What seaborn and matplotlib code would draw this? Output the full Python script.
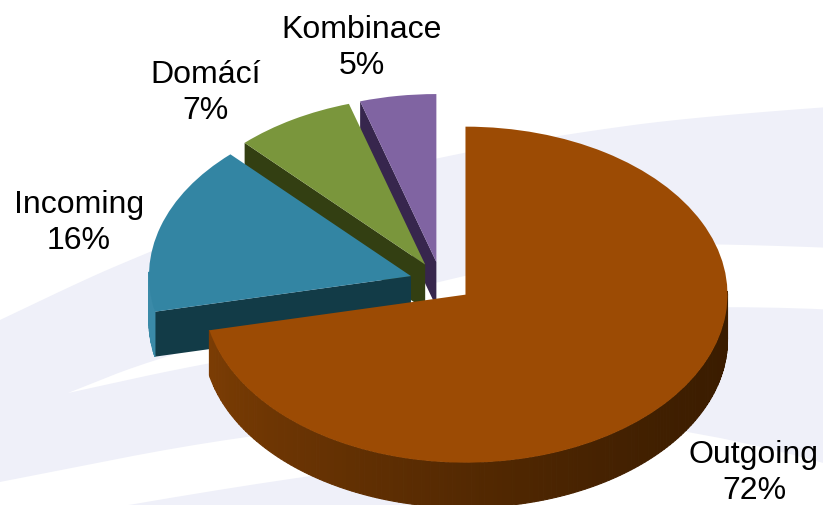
import numpy as np
import matplotlib
matplotlib.use('Agg')
import matplotlib.pyplot as plt
import seaborn as sns

sns.set_theme(style='white')
plt.rcParams['font.family'] = ['Liberation Sans', 'DejaVu Sans']

# Data
categories = ['Outgoing', 'Incoming', 'Domácí', 'Kombinace']
shares = [71.6, 16.3, 7.4, 4.7]  # slice sizes, labels round them
top_colors = ['#9c4b04', '#3385a3', '#7a963c', '#8064a2']
cut_colors = ['#5c2c00', '#123b47', '#333f12', '#37264d']
wall_left = ['#7e3e04', '#3a8aa8', '#5a6e2a', '#5c4878']
wall_right = ['#3a1c00', '#3a8aa8', '#5a6e2a', '#5c4878']
label_pos = [(754, 473), (79, 223), (206, 93), (362, 48)]

# Pie geometry, in pixels of the picture
W, H = 823, 505
CX, CY = 441, 282
RX, RY = 262, 168
DEPTH = 45
EXPLODE = 0.12

fig = plt.figure(figsize=(W / 100, H / 100), dpi=100)
ax = fig.add_axes([0, 0, 1, 1])

wedges, _ = ax.pie(shares, colors=top_colors, startangle=90, counterclock=False,
                   explode=[EXPLODE] * 4, radius=1, center=(0, 0),
                   wedgeprops={'linewidth': 0})
ax.set_aspect('auto')
ax.set_xlim(-CX / RX, (W - CX) / RX)
ax.set_ylim((CY - H) / RY, CY / RY)
ax.axis('off')

# Background swooshes, in pixel coordinates
def px(points):
    pts = np.array(points, dtype=float)
    return np.c_[(pts[:, 0] - CX) / RX, (CY - pts[:, 1]) / RY]

def smooth(points, rounds=3):
    # corner cutting, so the straight pieces turn into curves
    pts = np.array(points, dtype=float)
    for _ in range(rounds):
        nxt = np.roll(pts, -1, axis=0)
        pts = np.c_[0.75 * pts + 0.25 * nxt, 0.25 * pts + 0.75 * nxt].reshape(-1, 2)
    return pts

LAV = '#eff0f9'
swooshes = [
    # upper and middle band, joined left of the white sliver
    [(-200, 415), (0, 320), (84, 280), (130, 260), (300, 190), (440, 157), (560, 135), (700, 116), (1000, 95),
     (1000, 255), (717, 243), (600, 246), (400, 290), (156, 358), (68, 393), (68, 393), (68, 393),
     (210, 362), (460, 320), (727, 303), (1000, 320),
     (1000, 515), (695, 425), (460, 415), (240, 435), (0, 482), (-200, 521)],
    # lower band
    [(-100, 545), (300, 475), (500, 455), (500, 560)],
]
for s in swooshes:
    ax.fill(*px(smooth(s)).T, color=LAV, lw=0, zorder=1)

depth = DEPTH / RY

def arc(w, a, b, n=2):
    t = np.radians(np.linspace(a, b, n))
    return w.center[0] + np.cos(t), w.center[1] + np.sin(t)

def blend(c1, c2, f):
    c1, c2 = np.array(matplotlib.colors.to_rgb(c1)), np.array(matplotlib.colors.to_rgb(c2))
    return c1 + (c2 - c1) * f

# Extruded walls, back slices first
for i in [3, 2, 1, 0]:
    w = wedges[i]
    z = 3 + (3 - i)
    w.set_zorder(z + 0.5)
    th1, th2 = w.theta1, w.theta2
    x0, y0 = w.center
    # cut face along the lower edge of the small slices
    if i != 0:
        xe, ye = arc(w, th2, th2)
        xe, ye = xe[0], ye[0]
        ax.fill([x0, xe, xe, x0], [y0, ye, ye - depth, y0 - depth], color=cut_colors[i], lw=0, zorder=z)
    # outer wall, angular strips for the shading
    lo, hi = th1 % 360, th2 % 360
    if hi <= lo:
        hi += 360
    for a in np.arange(lo, hi, 1.0):
        b = min(a + 1.0, hi)
        if np.sin(np.radians(a + 0.5)) >= 0.02:
            continue
        xs, ys = arc(w, a, b, 4)
        f = (np.cos(np.radians(a)) + 1) / 2
        col = blend(wall_left[i], wall_right[i], f ** 0.7)
        ax.fill(np.r_[xs, xs[::-1]], np.r_[ys, ys[::-1] - depth],
                facecolor=col, edgecolor=col, lw=0.8, zorder=z)

# Labels
for name, share, (lx, ly) in zip(categories, shares, label_pos):
    ax.text((lx - CX) / RX, (CY - ly) / RY, f'{name}\n{round(share)}%', ha='center', va='center',
            fontsize=23, color='black', linespacing=1.3, zorder=20)

fig.savefig('out.png', dpi=100, facecolor='white')
